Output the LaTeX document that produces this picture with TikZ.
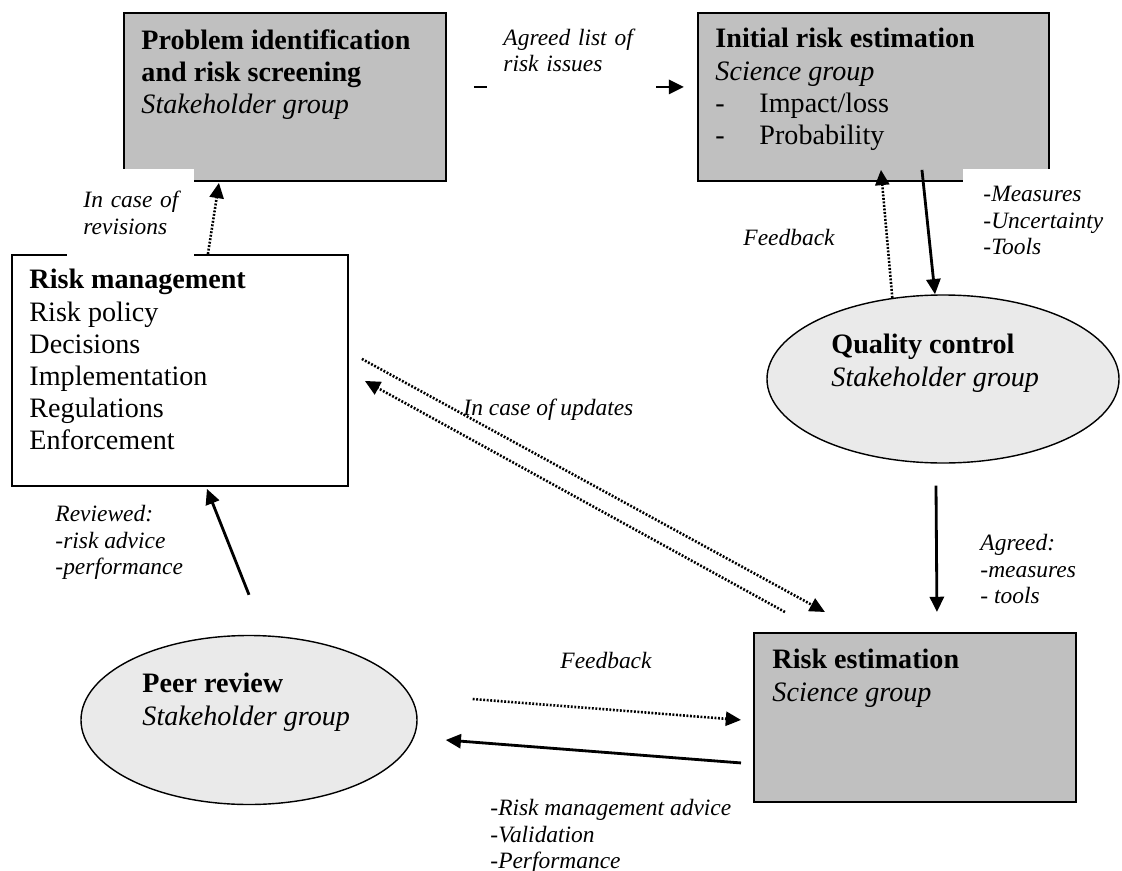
\documentclass[tikz,border=0pt]{standalone}
\usepackage{fontspec}
\setmainfont{Liberation Serif}
\usetikzlibrary{arrows.meta,shapes.geometric}

\definecolor{boxgray}{RGB}{192,192,192}
\definecolor{ovalgray}{RGB}{234,234,234}

\begin{document}
\begin{tikzpicture}[x=0.015cm, y=-0.015cm,
  greybox/.style={draw, line width=0.8pt, fill=boxgray, anchor=north west, inner sep=0pt},
  whitebox/.style={draw, line width=0.8pt, fill=white, anchor=north west, inner sep=0pt},
  oval/.style={draw, line width=0.6pt, fill=ovalgray, ellipse, inner sep=0pt},
  boxtext/.style={anchor=north west, align=left, inner sep=0pt, font=\fontsize{12}{13.7}\selectfont},
  lbl/.style={anchor=north west, align=left, inner sep=0pt, font=\fontsize{10}{11.3}\selectfont\itshape},
  patch/.style={anchor=north west, fill=white, inner ysep=0pt, align=left, font=\fontsize{10}{11.3}\selectfont\itshape},
  solidarrow/.style={line width=1.2pt, -{Triangle[length=6.5pt,width=6pt]}},
  dotarrow/.style={line width=1.1pt, dash pattern=on 0.8pt off 0.7pt, -{Triangle[length=6.5pt,width=6pt]}}]

  \useasboundingbox (0,0) rectangle (1122,871);

  % boxes
  \node[greybox, minimum width=4.83cm, minimum height=2.52cm] (prob) at (123,12) {};
  \node[greybox, minimum width=5.265cm, minimum height=2.52cm] (initest) at (697,12) {};
  \node[whitebox, minimum width=5.04cm, minimum height=3.465cm] (riskman) at (11,254) {};
  \node[greybox, minimum width=4.83cm, minimum height=2.535cm] (riskest) at (753,632) {};

  % ellipses
  \node[oval, minimum width=5.28cm, minimum height=2.52cm] (qc) at (943,379) {};
  \node[oval, minimum width=5.04cm, minimum height=2.535cm] (peer) at (249,720) {};

  % box texts
  \node[boxtext] (probtxt) at ([shift={(18,17)}]prob.north west)
    {\textbf{Problem identification}\\\textbf{and risk screening}\\\textit{Stakeholder group}};
  \node[boxtext] (initesttxt) at ([shift={(18,16)}]initest.north west)
    {\textbf{Initial risk estimation}\\\textit{Science group}\\
     \makebox[0.66cm][l]{-}Impact/loss\\\makebox[0.66cm][l]{-}Probability};
  \node[boxtext] (riskmantxt) at ([shift={(18,15)}]riskman.north west)
    {\textbf{Risk management}\\Risk policy\\Decisions\\Implementation\\Regulations\\Enforcement};
  \node[boxtext] (riskesttxt) at ([shift={(19,17)}]riskest.north west)
    {\textbf{Risk estimation}\\\textit{Science group}};
  \node[boxtext] (qctxt) at ([shift={(-112,-45)}]qc.center)
    {\textbf{Quality control}\\\textit{Stakeholder group}};
  \node[boxtext] (peertxt) at ([shift={(-107,-47)}]peer.center)
    {\textbf{Peer review}\\\textit{Stakeholder group}};

  % arrows
  \draw[solidarrow] ([shift={(27,-10)}]prob.east) -- ([shift={(-13,-10)}]initest.west);
  \draw[dotarrow] ([shift={(28,0)}]riskman.north) -- ([shift={(-66,1)}]prob.south);
  \draw[dotarrow] (qc.122) -- ([shift={(7.5,-12)}]initest.south);
  \draw[solidarrow] ([shift={(48.5,-12)}]initest.south) -- ([shift={(-8,0)}]qc.north);
  \draw[solidarrow] ([shift={(-7,22)}]qc.south) -- ([shift={(22,-20)}]riskest.north);
  \draw[dotarrow] ([shift={(13,-11.5)}]riskman.east) -- ([shift={(-90,-20)}]riskest.north);
  \draw[dotarrow] ([shift={(-130,-20)}]riskest.north) -- ([shift={(16,10.5)}]riskman.east);
  \draw[solidarrow] ([shift={(0,-40)}]peer.north) -- ([shift={(27,2)}]riskman.south);
  \draw[dotarrow] ([shift={(55,-21)}]peer.east) -- ([shift={(-12,2.5)}]riskest.west);
  \draw[solidarrow] ([shift={(-12,45.5)}]riskest.west) -- ([shift={(28,20)}]peer.east);

  % labels on white patches
  \node[patch, inner xsep=0.24cm, text width=2.055cm, minimum height=1.26cm] (agreedlist) at (487,8)
    {Agreed list of\\risk issues};
  \node[patch, inner xsep=0.24cm, text width=1.425cm, minimum height=1.305cm] (revisions) at (67,169)
    {In case of\\revisions};
  \node[patch, inner xsep=0.3cm, text width=1.85cm, minimum height=1.53cm] (measures) at (963,169)
    {-Measures\\-Uncertainty\\-Tools};

  % other labels
  \node[lbl] (fbtop) at (743,229) {Feedback};
  \node[lbl] (updates) at (463,399) {In case of updates};
  \node[lbl] (agreed) at (980,534) {Agreed:\\-measures\\- tools};
  \node[lbl] (reviewed) at (55,505) {Reviewed:\\-risk advice\\-performance};
  \node[lbl] (fbbottom) at (560,652) {Feedback};
  \node[lbl] (advice) at (490,799) {-Risk management advice\\-Validation\\-Performance};
\end{tikzpicture}
\end{document}
